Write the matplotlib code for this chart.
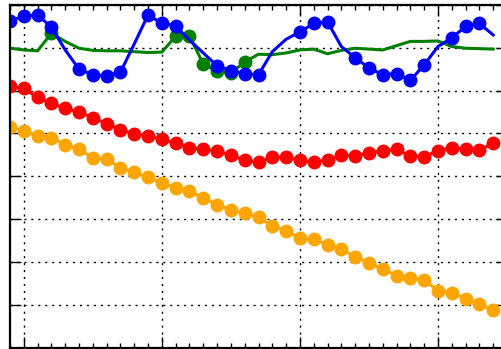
import numpy as np
import matplotlib.pyplot as plt

# --- data: 36 steps, four series ---
steps = np.arange(36)

blue = [7.63, 7.74, 7.77, 7.48, 6.95, 6.50, 6.37, 6.35, 6.43, 7.09,
        7.77, 7.57, 7.51, 7.18, 6.88, 6.58, 6.47, 6.40, 6.37, 6.91,
        7.20, 7.37, 7.57, 7.61, 7.03, 6.77, 6.53, 6.37, 6.40, 6.24,
        6.60, 7.03, 7.23, 7.50, 7.57, 7.30]
blue_marked = [0, 1, 2, 3, 5, 6, 7, 8, 10, 11, 12, 15, 16, 17, 18,
               21, 22, 23, 25, 26, 27, 28, 29, 30, 32, 33, 34]

green = [6.99, 6.95, 6.93, 7.34, 7.15, 6.99, 6.94, 6.93, 6.93, 6.91,
         6.89, 6.90, 7.27, 7.28, 6.62, 6.45, 6.41, 6.67, 6.85, 6.84,
         6.88, 6.95, 6.97, 6.86, 6.94, 6.99, 6.97, 6.95, 7.05, 7.15,
         7.15, 7.16, 7.03, 6.99, 6.98, 6.97]
green_marked = [3, 12, 13, 14, 15, 16, 17]

red = [6.10, 6.05, 5.84, 5.70, 5.59, 5.50, 5.37, 5.23, 5.09, 4.99,
       4.94, 4.86, 4.77, 4.67, 4.63, 4.59, 4.50, 4.37, 4.33, 4.44,
       4.45, 4.37, 4.33, 4.38, 4.50, 4.47, 4.55, 4.59, 4.63, 4.47,
       4.46, 4.59, 4.67, 4.63, 4.61, 4.77]

orange = [5.16, 5.05, 4.94, 4.90, 4.74, 4.63, 4.43, 4.40, 4.20, 4.09,
          3.98, 3.84, 3.73, 3.65, 3.50, 3.33, 3.22, 3.13, 3.04, 2.84,
          2.73, 2.55, 2.53, 2.40, 2.30, 2.12, 1.97, 1.84, 1.68, 1.63,
          1.57, 1.33, 1.28, 1.14, 1.01, 0.87]

# --- figure ---
fig = plt.figure(figsize=(5.01, 3.49), dpi=100)
ax = fig.add_axes([10 / 501, 1.5 / 349, 497 / 501, 342.5 / 349])

ms = 9
lw = 2.2
ax.plot(steps, orange, 'o-', color='orange', mec='orange', ms=ms, lw=lw)
ax.plot(steps, red, 'o-', color='red', mec='red', ms=ms, lw=lw)
ax.plot(steps, green, 'o-', color='green', mec='green', ms=ms, lw=lw,
        markevery=green_marked)
ax.plot(steps, blue, 'o-', color='blue', mec='blue', ms=ms, lw=lw,
        markevery=blue_marked)

ax.set_xlim(0, 36)
ax.set_ylim(0, 8)
ax.set_xticks([1, 11, 21, 31])
ax.set_xticks(np.arange(0, 37), minor=True)
ax.set_yticks(np.arange(0, 9))
ax.set_xticklabels([])
ax.set_yticklabels([])

# inward ticks on every side, dotted black grid
ax.tick_params(which='both', direction='in', top=True, right=True,
               color='black', width=1)
ax.tick_params(which='major', length=8)
ax.tick_params(which='minor', length=3.5)

ax.grid(True, which='major', color='black', linestyle=(0, (1.5, 3.5)),
        linewidth=1)
ax.set_axisbelow(True)
for s in ax.spines.values():
    s.set_linewidth(1.6)

fig.savefig('out.png', dpi=100)
